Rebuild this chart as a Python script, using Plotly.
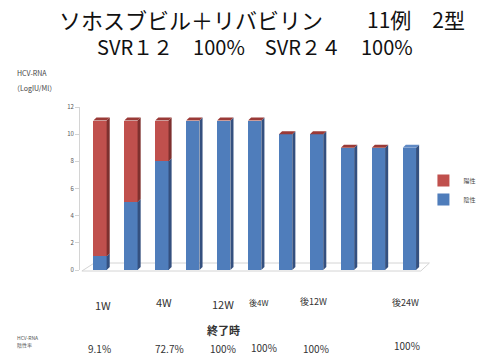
import plotly.graph_objects as go

# HCV-RNA status per visit (bar height = number of cases)
negative = [1, 5, 8, 11, 11, 11, 10, 10, 9, 9, 9]       # 陰性
positive = [10, 6, 3, 0, 0, 0, 0, 0, 0, 0, None]        # 陽性
visit_idx = list(range(len(negative)))

# text rows under the chart
visit_labels = ["1W", "4W", "12W", "後4W", "後12W", "後24W"]
negative_rates = ["9.1%", "72.7%", "100%", "100%", "100%", "100%"]

title_parts = ["ソホスブビル＋リバビリン", "11例　2型"]
subtitle = "SVR１２　100%　SVR２４　100%"

W, H = 493, 356
ML, MR, MT, MB = 80, 38, 107, 86
PW, PH = W - ML - MR, H - MT - MB
X0 = -0.646
XSPAN = PW / 32.5


def px(x):
    return (x - ML) / PW


def py(y):
    return (H - MB - y) / PH


BLUE, BLUE_SIDE, BLUE_TOP = "#4f7dbb", "#34507f", "#5f89c4"
RED, RED_SIDE, RED_TOP = "#c0504d", "#7e302e", "#9a3a37"
BAR_W, DX, DY = 0.43, 0.1, 0.22

fig = go.Figure()
fig.add_trace(go.Bar(x=visit_idx, y=negative, name="陰性", marker_color=BLUE,
                     marker_line_width=0, width=BAR_W))
fig.add_trace(go.Bar(x=visit_idx, y=positive, name="陽性", marker_color=RED,
                     marker_line_width=0, width=BAR_W))

# pseudo-3D side and top faces, computed from the same values
shapes = []
for i, n, p in zip(visit_idx, negative, positive):
    segs = [(0, n, BLUE_SIDE)]
    if p:
        segs.append((n, n + p, RED_SIDE))
    xr = i + BAR_W / 2
    for b0, b1, c in segs:
        shapes.append(dict(type="path", xref="x", yref="y", fillcolor=c, line_width=0,
                           path=f"M {xr},{b0} L {xr+DX},{b0+DY} L {xr+DX},{b1+DY} L {xr},{b1} Z"))
    top = n + (p or 0)
    xl = i - BAR_W / 2
    cap = RED_TOP if p is not None else BLUE_TOP
    shapes.append(dict(type="path", xref="x", yref="y", fillcolor=cap, line_width=0,
                       path=f"M {xl},{top} L {xl+DX},{top+DY} L {xr+DX},{top+DY} L {xr},{top} Z"))

# floor plate
shapes.append(dict(type="path", xref="paper", yref="paper", layer="below",
                   line=dict(color="#d4d4d4", width=1), fillcolor="rgba(0,0,0,0)",
                   path=f"M {px(82)},{py(271)} L {px(95)},{py(263)} L {px(447)},{py(263)} "
                        f"L {px(438)},{py(271)} Z"))

ann = []
FONT = "Noto Sans CJK JP"
for t, x, s in zip(title_parts, [56, 379], [22, 21]):
    ann.append(dict(text=t, x=px(x), y=py(19), xanchor="left", yanchor="middle",
                    font=dict(size=s, color="#111", family=FONT)))
ann.append(dict(text=subtitle, x=px(96), y=py(47), xanchor="left", yanchor="middle",
                font=dict(size=20, color="#111", family=FONT)))
ann.append(dict(text="HCV-RNA", x=px(12), y=py(73), xanchor="left", yanchor="middle",
                font=dict(size=7, color="#444", family=FONT)))
ann.append(dict(text="（LogIU/Ml）", x=px(8), y=py(88), xanchor="left", yanchor="middle",
                font=dict(size=7, color="#444", family=FONT)))

label_pos = [(104, 305, 11), (168, 302, 11), (230, 304, 11), (268, 302, 8),
             (325, 301, 9), (422, 302, 9)]
for t, (x, y, s) in zip(visit_labels, label_pos):
    ann.append(dict(text=t, x=px(x), y=py(y), xanchor="center", yanchor="middle",
                    font=dict(size=s, color="#333", family=FONT)))

ann.append(dict(text="<b>終了時</b>", x=px(231), y=py(330), xanchor="center", yanchor="middle",
                font=dict(size=11, color="#333", family=FONT)))
ann.append(dict(text="HCV-RNA<br>陰性率", x=px(12), y=py(341), xanchor="left", yanchor="middle",
                align="left", font=dict(size=5, color="#555", family=FONT)))

rate_pos = [(100, 348), (174, 348), (230, 348), (273, 347), (328, 348), (424, 345)]
for t, (x, y) in zip(negative_rates, rate_pos):
    ann.append(dict(text=t, x=px(x), y=py(y), xanchor="center", yanchor="middle",
                    font=dict(size=10, color="#333", family=FONT)))

for a in ann:
    a.update(xref="paper", yref="paper", showarrow=False)

fig.update_layout(
    width=W, height=H,
    margin=dict(l=ML, r=MR, t=MT, b=MB, pad=0),
    paper_bgcolor="white", plot_bgcolor="white",
    barmode="stack",
    showlegend=True,
    legend=dict(x=px(452) - 0.03, y=py(166), xanchor="left", yanchor="top", traceorder="reversed",
                font=dict(size=6, color="#444", family=FONT), itemwidth=30,
                bgcolor="rgba(0,0,0,0)", tracegroupgap=0),
    xaxis=dict(range=[X0, X0 + XSPAN], showticklabels=False, showgrid=False,
               zeroline=False, showline=False, ticks=""),
    yaxis=dict(range=[0, 12], dtick=2, showgrid=False, zeroline=False,
               showline=True, linecolor="#d4d4d4", linewidth=1,
               ticks="outside", ticklen=4, tickcolor="#d4d4d4",
               tickfont=dict(size=6, color="#555", family=FONT)),
    shapes=shapes,
    annotations=ann,
    font=dict(family=FONT),
)

fig.write_html("out.html")
